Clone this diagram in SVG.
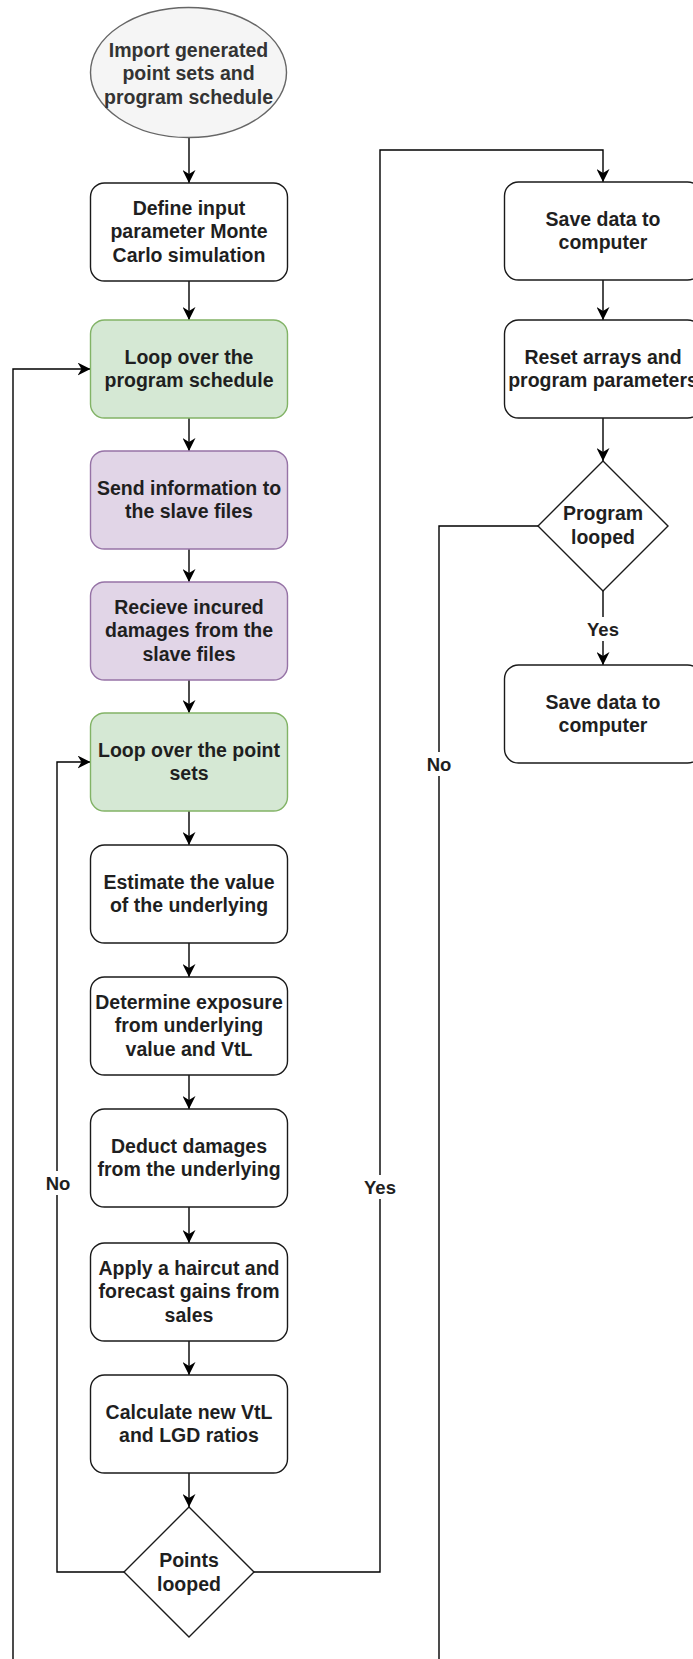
<svg xmlns="http://www.w3.org/2000/svg" width="693" height="1659" viewBox="0 0 693 1659">
  <defs>
    <marker id="arrow" viewBox="0 0 13 13" refX="13" refY="6.5" markerWidth="13" markerHeight="13" markerUnits="userSpaceOnUse" orient="auto">
      <path d="M0,0 L13,6.5 L0,13 L4,6.5 Z" fill="#000"/>
    </marker>
    <style>
      .box { fill: #ffffff; stroke: #1a1a1a; stroke-width: 1.4; }
      .green { fill: #d5e8d4; stroke: #82b366; stroke-width: 1.4; }
      .purple { fill: #e1d5e7; stroke: #9673a6; stroke-width: 1.4; }
      .start { fill: #f5f5f5; stroke: #666666; stroke-width: 1.4; }
      .txt { font-family: "Liberation Sans", Arial, sans-serif; font-weight: bold; font-size: 19.5px; fill: #1f1f1f; text-anchor: middle; }
      .txt-grey { fill: #333333; }
      .lbl { font-family: "Liberation Sans", Arial, sans-serif; font-weight: bold; font-size: 18.5px; fill: #1f1f1f; text-anchor: middle; }
      .edge { fill: none; stroke: #000; stroke-width: 1.4; }
      .lbl-bg { fill: #ffffff; }
    </style>
  </defs>
  <rect width="693" height="1659" fill="#ffffff"/>

  <!-- connectors -->
  <g id="connectors">
    <path class="edge" d="M189,138 V183" marker-end="url(#arrow)"/>
    <path class="edge" d="M189,281 V320" marker-end="url(#arrow)"/>
    <path class="edge" d="M189,418 V451" marker-end="url(#arrow)"/>
    <path class="edge" d="M189,549 V582" marker-end="url(#arrow)"/>
    <path class="edge" d="M189,680 V713" marker-end="url(#arrow)"/>
    <path class="edge" d="M189,811 V845" marker-end="url(#arrow)"/>
    <path class="edge" d="M189,943 V977" marker-end="url(#arrow)"/>
    <path class="edge" d="M189,1075 V1109" marker-end="url(#arrow)"/>
    <path class="edge" d="M189,1207 V1243" marker-end="url(#arrow)"/>
    <path class="edge" d="M189,1341 V1375" marker-end="url(#arrow)"/>
    <path class="edge" d="M189,1473 V1507" marker-end="url(#arrow)"/>
    <!-- points not yet looped: back to the point-set loop -->
    <path class="edge" d="M124,1572 H57 V762 H90.5" marker-end="url(#arrow)"/>
    <!-- points looped: over to saving -->
    <path class="edge" d="M254,1572 H380 V150 H603 V182" marker-end="url(#arrow)"/>
    <path class="edge" d="M603,280 V320" marker-end="url(#arrow)"/>
    <path class="edge" d="M603,418 V461" marker-end="url(#arrow)"/>
    <path class="edge" d="M603,591 V665" marker-end="url(#arrow)"/>
    <!-- program not yet looped: back to the schedule loop -->
    <path class="edge" d="M538,526 H439 V1659"/>
    <path class="edge" d="M13,1659 V369 H90.5" marker-end="url(#arrow)"/>

    <!-- edge labels -->
    <rect class="lbl-bg" x="44" y="1171" width="28" height="24"/>
    <text class="lbl" x="58" y="1189.5">No</text>
    <rect class="lbl-bg" x="362" y="1175" width="36" height="24"/>
    <text class="lbl" x="380" y="1193.5">Yes</text>
    <rect class="lbl-bg" x="425" y="752" width="28" height="24"/>
    <text class="lbl" x="439" y="770.5">No</text>
    <rect class="lbl-bg" x="585" y="617" width="36" height="24"/>
    <text class="lbl" x="603" y="635.5">Yes</text>
  </g>

  <!-- main column -->
  <g id="n-import">
    <ellipse class="start" cx="188.5" cy="72.5" rx="98" ry="65"/>
    <text class="txt txt-grey" x="188.5" y="56.5">Import generated</text>
    <text class="txt txt-grey" x="188.5" y="80">point sets and</text>
    <text class="txt txt-grey" x="188.5" y="103.5">program schedule</text>
  </g>
  <g id="n-define">
    <rect class="box" x="90.5" y="183" width="197" height="98" rx="14"/>
    <text class="txt" x="189" y="214.5">Define input</text>
    <text class="txt" x="189" y="238">parameter Monte</text>
    <text class="txt" x="189" y="261.5">Carlo simulation</text>
  </g>
  <g id="n-loop-schedule">
    <rect class="green" x="90.5" y="320" width="197" height="98" rx="14"/>
    <text class="txt" x="189" y="363.5">Loop over the</text>
    <text class="txt" x="189" y="387">program schedule</text>
  </g>
  <g id="n-send">
    <rect class="purple" x="90.5" y="451" width="197" height="98" rx="14"/>
    <text class="txt" x="189" y="494.5">Send information to</text>
    <text class="txt" x="189" y="518">the slave files</text>
  </g>
  <g id="n-receive">
    <rect class="purple" x="90.5" y="582" width="197" height="98" rx="14"/>
    <text class="txt" x="189" y="613.5">Recieve incured</text>
    <text class="txt" x="189" y="637">damages from the</text>
    <text class="txt" x="189" y="660.5">slave files</text>
  </g>
  <g id="n-loop-points">
    <rect class="green" x="90.5" y="713" width="197" height="98" rx="14"/>
    <text class="txt" x="189" y="756.5">Loop over the point</text>
    <text class="txt" x="189" y="780">sets</text>
  </g>
  <g id="n-estimate">
    <rect class="box" x="90.5" y="845" width="197" height="98" rx="14"/>
    <text class="txt" x="189" y="888.5">Estimate the value</text>
    <text class="txt" x="189" y="912">of the underlying</text>
  </g>
  <g id="n-determine">
    <rect class="box" x="90.5" y="977" width="197" height="98" rx="14"/>
    <text class="txt" x="189" y="1008.5">Determine exposure</text>
    <text class="txt" x="189" y="1032">from underlying</text>
    <text class="txt" x="189" y="1055.5">value and VtL</text>
  </g>
  <g id="n-deduct">
    <rect class="box" x="90.5" y="1109" width="197" height="98" rx="14"/>
    <text class="txt" x="189" y="1152.5">Deduct damages</text>
    <text class="txt" x="189" y="1176">from the underlying</text>
  </g>
  <g id="n-apply">
    <rect class="box" x="90.5" y="1243" width="197" height="98" rx="14"/>
    <text class="txt" x="189" y="1274.5">Apply a haircut and</text>
    <text class="txt" x="189" y="1298">forecast gains from</text>
    <text class="txt" x="189" y="1321.5">sales</text>
  </g>
  <g id="n-calculate">
    <rect class="box" x="90.5" y="1375" width="197" height="98" rx="14"/>
    <text class="txt" x="189" y="1418.5">Calculate new VtL</text>
    <text class="txt" x="189" y="1442">and LGD ratios</text>
  </g>
  <g id="d-points">
    <path class="box" d="M189,1507 L254,1572 L189,1637 L124,1572 Z"/>
    <text class="txt" x="189" y="1567">Points</text>
    <text class="txt" x="189" y="1590.5">looped</text>
  </g>

  <!-- right column -->
  <g id="n-save-1">
    <rect class="box" x="504.5" y="182" width="197" height="98" rx="14"/>
    <text class="txt" x="603" y="225.5">Save data to</text>
    <text class="txt" x="603" y="249">computer</text>
  </g>
  <g id="n-reset">
    <rect class="box" x="504.5" y="320" width="197" height="98" rx="14"/>
    <text class="txt" x="603" y="363.5">Reset arrays and</text>
    <text class="txt" x="603" y="387">program parameters</text>
  </g>
  <g id="d-program">
    <path class="box" d="M603,461 L668,526 L603,591 L538,526 Z"/>
    <text class="txt" x="603" y="520">Program</text>
    <text class="txt" x="603" y="543.5">looped</text>
  </g>
  <g id="n-save-2">
    <rect class="box" x="504.5" y="665" width="197" height="98" rx="14"/>
    <text class="txt" x="603" y="708.5">Save data to</text>
    <text class="txt" x="603" y="732">computer</text>
  </g>
</svg>
